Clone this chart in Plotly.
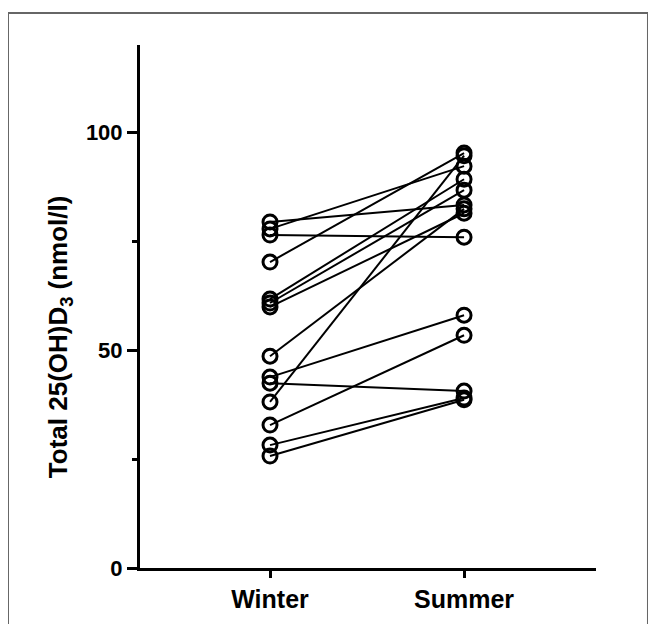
import plotly.graph_objects as go

seasons = ["Winter", "Summer"]
winter = [79.4, 77.8, 76.4, 70.2, 61.7, 60.8, 59.9, 48.6, 43.8, 42.4, 38.1, 32.8, 28.2, 25.7]
summer = [83.3, 92.2, 75.9, 95.2, 89.2, 86.7, 81.4, 82.4, 58.0, 40.6, 94.6, 53.4, 39.0, 38.6]
y_ticks = [0, 50, 100]
y_title = "Total 25(OH)D<sub>3</sub> (nmol/l)"

fig = go.Figure()
for w, s in zip(winter, summer):
    fig.add_trace(go.Scatter(
        x=[0, 1], y=[w, s], mode="lines+markers",
        line=dict(color="black", width=2),
        marker=dict(symbol="circle-open", size=14, color="black",
                    line=dict(width=3, color="black")),
        showlegend=False, hoverinfo="skip"))

font = "Liberation Sans, Arial, sans-serif"
fig.update_layout(
    width=648, height=616,
    margin=dict(l=132, r=60, t=37, b=56),
    paper_bgcolor="white", plot_bgcolor="white",
    xaxis=dict(range=[-0.67, 1.68], tickvals=[0, 1],
               ticktext=["<b>%s</b>" % s for s in seasons],
               showgrid=False, zeroline=False, showline=True, linecolor="black",
               linewidth=3, ticks="outside", ticklen=7, tickwidth=3, tickcolor="black",
               automargin=False,
               tickfont=dict(family=font, size=25, color="black")),
    yaxis=dict(range=[0, 120], tickvals=y_ticks,
               ticktext=["<b>%d</b>" % v for v in y_ticks],
               showgrid=False, zeroline=False, automargin=False,
               showline=True, linecolor="black", linewidth=3,
               ticks="outside", ticklen=10, tickwidth=3, tickcolor="black",
               tickfont=dict(family=font, size=22, color="black"),
               minor=dict(tickvals=[25, 75], ticks="outside", ticklen=5,
                          tickwidth=3, tickcolor="black")),
    annotations=[dict(text="<b>%s</b>" % y_title, xref="paper", yref="paper",
                      x=-0.175, y=0.4417, textangle=-90, showarrow=False,
                      xanchor="center", yanchor="middle",
                      font=dict(family=font, size=26, color="black"))],
    shapes=[dict(type="rect", xref="paper", yref="paper",
                 x0=-0.2895, x1=1.114, y0=-0.13, y1=1.061,
                 line=dict(color="#666666", width=2), fillcolor="rgba(0,0,0,0)")],
)
fig.write_html("out.html")
